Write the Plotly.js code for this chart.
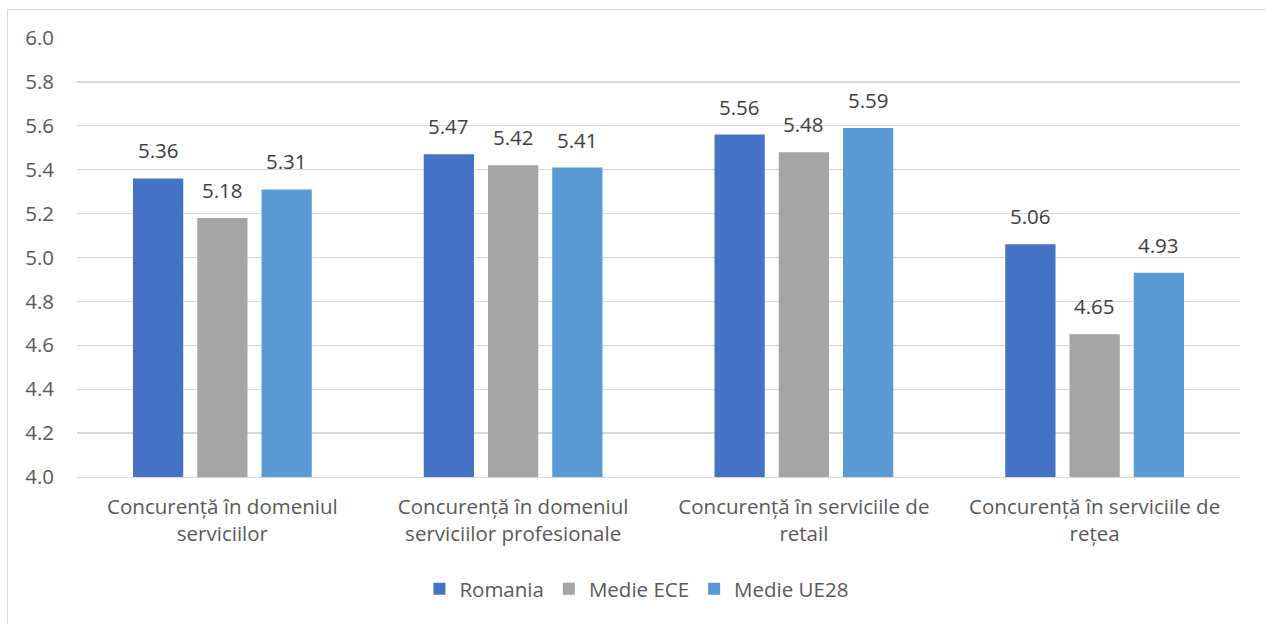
<!DOCTYPE html>
<html>
<head>
<meta charset="utf-8">
<script src="https://cdn.plot.ly/plotly-3.0.1.min.js"></script>
<style>
  html, body { margin: 0; padding: 0; background: #ffffff; width: 1266px; height: 624px; overflow: hidden; }
  #frame { position: absolute; left: 7px; top: 9px; width: 1280px; height: 640px; border: 1.5px solid #d9d9d9; box-sizing: border-box; }
  #chart { position: absolute; left: 0; top: 0; width: 1266px; height: 624px; }
</style>
</head>
<body>
<div id="frame"></div>
<div id="chart"></div>
<script>
const categories = [
  "Concurență în domeniul<br>serviciilor",
  "Concurență în domeniul<br>serviciilor profesionale",
  "Concurență în serviciile de<br>retail",
  "Concurență în serviciile de<br>rețea"
];
const seriesNames = ["Romania", "Medie ECE", "Medie UE28"];
const romania = [5.36, 5.47, 5.56, 5.06];
const medieECE = [5.18, 5.42, 5.48, 4.65];
const medieUE28 = [5.31, 5.41, 5.59, 4.93];
const seriesValues = [romania, medieECE, medieUE28];
const colors = ["#4472C4", "#A5A5A5", "#5B9BD5"];

const FONT = "'Open Sans', 'Noto Sans', sans-serif";
const bargap = 0.337;
const bargroupgap = 0.218;

const traces = seriesValues.map((vals, j) => ({
  type: "bar",
  name: seriesNames[j],
  x: categories,
  y: vals,
  marker: { color: colors[j], line: { width: 0 } },
  hoverinfo: "none"
}));

// data labels above bars, placed at each bar's slot within the group
const slot = (1 - bargap) / seriesValues.length;
const annotations = [];
seriesValues.forEach((vals, j) => {
  vals.forEach((v, i) => {
    annotations.push({
      xref: "x", yref: "y",
      x: i + (j - (seriesValues.length - 1) / 2) * slot,
      y: v,
      text: v.toFixed(2),
      showarrow: false,
      xanchor: "center", yanchor: "bottom",
      yshift: 12,
      font: { family: FONT, size: 20.5, color: "#404040" }
    });
  });
});

const layout = {
  width: 1266, height: 624,
  paper_bgcolor: "rgba(0,0,0,0)",
  plot_bgcolor: "rgba(0,0,0,0)",
  margin: { l: 77, r: 26, t: 38, b: 147 },
  barmode: "group",
  bargap: bargap,
  bargroupgap: bargroupgap,
  showlegend: true,
  legend: {
    orientation: "h",
    x: 0.481, xanchor: "center",
    y: -0.255, yanchor: "middle",
    font: { family: FONT, size: 20.5, color: "#595959" },
    itemwidth: 30,
    traceorder: "normal"
  },
  xaxis: {
    type: "category",
    showgrid: false,
    showline: true, linecolor: "#d9d9d9", linewidth: 1.3,
    ticks: "",
    ticklabelstandoff: 11,
    tickfont: { family: FONT, size: 20.5, color: "#595959" },
    fixedrange: true
  },
  yaxis: {
    range: [4, 6],
    dtick: 0.2,
    tick0: 4,
    tickformat: ".1f",
    showgrid: true, gridcolor: "#d9d9d9", gridwidth: 1.3,
    zeroline: false,
    showline: false,
    ticks: "",
    ticklabelstandoff: 22,
    tickfont: { family: FONT, size: 20.5, color: "#595959" },
    fixedrange: true
  },
  annotations: annotations
};

Plotly.newPlot("chart", traces, layout, { displayModeBar: false, staticPlot: true });
</script>
</body>
</html>
